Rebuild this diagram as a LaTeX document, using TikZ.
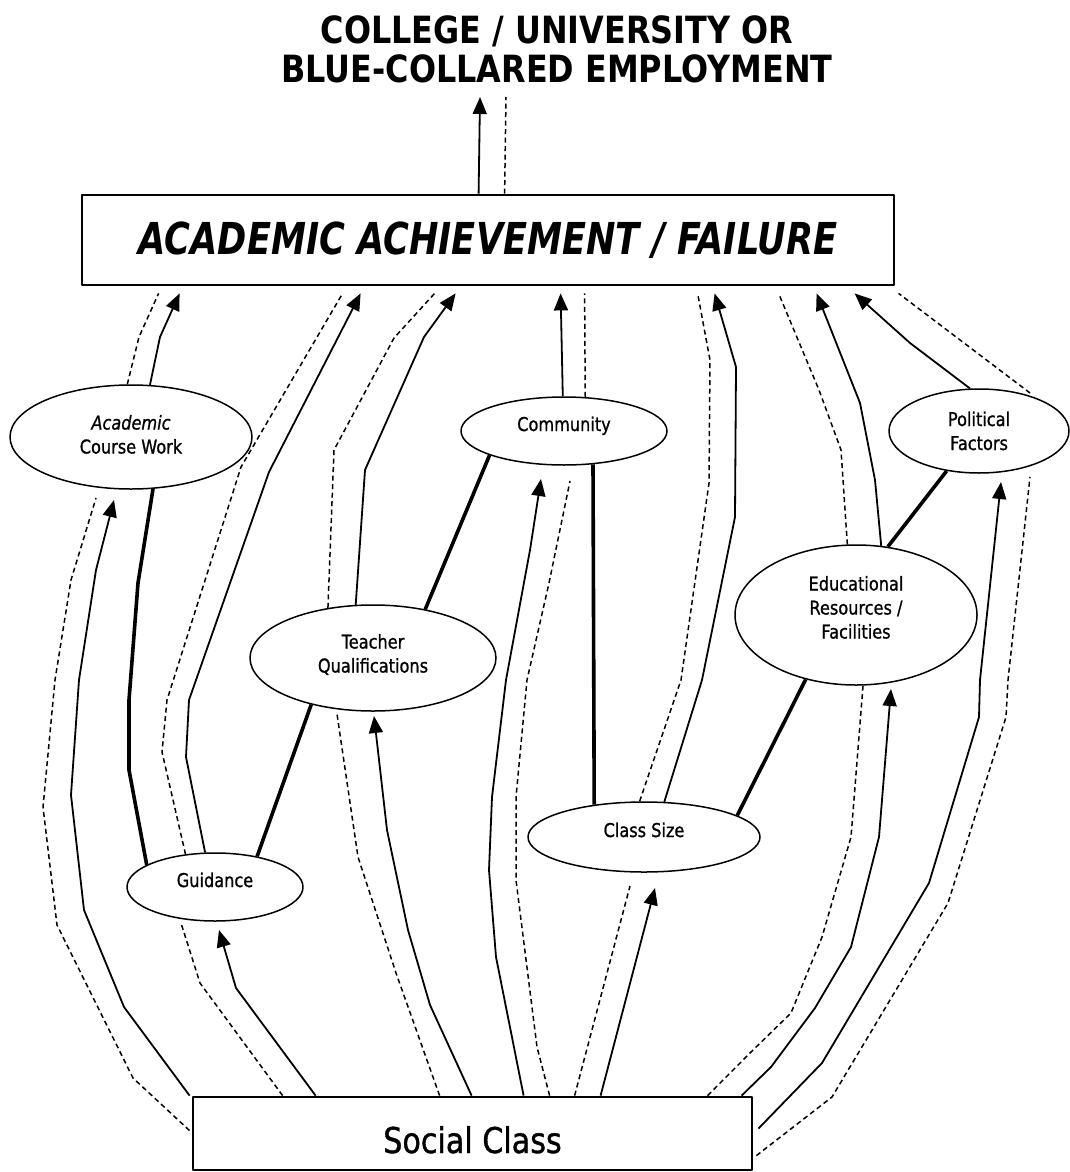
\documentclass[tikz,border=0pt]{standalone}
\usepackage{fontspec}
\setmainfont{DejaVu Sans}[FakeStretch=0.85]
\newfontfamily\headfont{DejaVu Sans}[FakeStretch=0.8]
\newfontfamily\labelfont{DejaVu Sans}[FakeStretch=0.85,FakeBold=1]
\usetikzlibrary{calc,arrows.meta,shapes.geometric}

\begin{document}
\begin{tikzpicture}[x=1pt,y=-1pt,line join=round,
  factor/.style={ellipse,draw,line width=1.5pt,inner sep=0pt,align=center,
    font=\labelfont\fontsize{19}{24}\selectfont},
  box/.style={rectangle,draw,line width=2.8pt,inner sep=0pt},
  infl/.style={line width=1.8pt,-{Triangle[length=17pt,width=14pt]}},
  shadow/.style={line width=1.5pt,dash pattern=on 5pt off 3.5pt},
  link/.style={line width=3.6pt},
]
\useasboundingbox (0,0) rectangle (1069,1172);

% outcome and central box
\node[align=center,inner sep=0pt,text height=70pt,text depth=6pt,
  font=\fontsize{37.5}{39}\selectfont\bfseries] (dest) at (557,50)
  {COLLEGE / UNIVERSITY OR\\BLUE-COLLARED EMPLOYMENT};
\node[box,minimum width=812,minimum height=90] (top) at (488,240)
  {\headfont\fontsize{44}{44}\selectfont\bfseries\itshape ACADEMIC ACHIEVEMENT / FAILURE};
\node[box,minimum width=559,minimum height=73,text height=39pt,text depth=0pt] (soc) at (472.5,1133.5)
  {\labelfont\fontsize{35.5}{40}\selectfont Social Class};

% intermediate factors
\node[factor,minimum width=242,minimum height=104,text height=38pt,text depth=5pt] (acw) at (131,437)
  {\textit{Academic}\\Course Work};
\node[factor,minimum width=206,minimum height=68,text height=14pt,text depth=14pt] (com) at (564,431)
  {Community};
\node[factor,minimum width=180,minimum height=84,text height=40pt,text depth=2pt] (pol) at (979,431)
  {Political\\Factors};
\node[factor,minimum width=246,minimum height=106,text height=38pt,text depth=9pt] (tq) at (373,658)
  {Teacher\\Qualifications};
\node[factor,minimum width=242,minimum height=140,text height=62pt,text depth=15pt] (edu) at (856,615)
  {Educational\\Resources /\\Facilities};
\node[factor,minimum width=232,minimum height=70,text height=14pt,text depth=14pt] (cs) at (644,837)
  {Class Size};
\node[factor,minimum width=176,minimum height=68,text height=14pt,text depth=14pt] (gui) at (215,887)
  {Guidance};

% central box to outcome
\draw[infl] ($(top.north west)+(398,0)$) -- ($(dest.center)+(-77,47)$);
\draw[shadow] ($(top.north west)+(424,0)$) -- ($(dest.center)+(-51,47)$);

% factors into the central box
\draw[infl] (acw.70) -- (160,337) -- ($(top.south west)+(99,7)$);
\draw[shadow] (acw.94) -- (139,337) -- ($(top.south west)+(78,7)$);
\draw[infl] (gui.106) -- (186,757) -- (189,700) -- (269,472) -- ($(top.south west)+(280,7)$);
\draw[shadow] (gui.132) -- (162,752) -- (167,700) -- (241,467) -- ($(top.south west)+(262,7)$);
\draw[infl] (tq.108) -- (365,470) -- (424,337) -- ($(top.south west)+(375,7)$);
\draw[shadow] (tq.132) -- (334,450) -- (394,338) -- ($(top.south west)+(354,7)$);
\draw[infl] (com.92) -- ($(top.south west)+(480,7)$);
\draw[shadow] (com.58) -- ($(top.south west)+(504,7)$);
\draw[infl] (cs.60) -- (702,680) -- (735,517) -- (736,367) -- ($(top.south west)+(634,7)$);
\draw[shadow] (cs.97) -- (681,680) -- (709,483) -- (710,360) -- ($(top.south west)+(617,7)$);
\draw[infl] (edu.70) -- (875,480) -- (860,403) -- ($(top.south west)+(736,7)$);
\draw[shadow] (edu.97) -- (841,450) -- (819,390) -- ($(top.south west)+(698,7)$);
\draw[infl] (pol.102) -- (910,343) -- ($(top.south west)+(774,7)$);
\draw[shadow] ($(pol.center)+(51,-38)$) -- ($(top.south west)+(818,7)$);

% links between factors
\draw[link] (acw.293) -- (138,583) -- (129,700) -- (129,770) -- (gui.162);
\draw[link] (gui.36) -- (tq.217);
\draw[link] (tq.43) -- (com.198);
\draw[link] (com.311) -- (cs.147);
\draw[link] (cs.13) -- (edu.232);
\draw[link] (edu.65) -- (pol.231);

% social class into the factors
\draw[infl] ($(soc.north west)+(124,0)$) -- (236,988) -- ($(gui.center)+(4,43)$);
\draw[shadow] ($(soc.north west)+(91,0)$) -- (200,983) -- ($(gui.center)+(-34,36)$);
\draw[infl] ($(soc.north west)+(280,0)$) -- (430,1005) -- (408,930) -- (387,830) -- ($(tq.center)+(1,58)$);
\draw[shadow] ($(soc.north west)+(248,0)$) -- (396,973) -- (358,857) -- ($(tq.center)+(-36,56)$);
\draw[infl] ($(soc.north west)+(-2,0)$) -- (124,1007) -- (84,910) -- (71,795) -- (79,680) -- (96,570) -- ($(acw.center)+(-17,63)$);
\draw[shadow] ($(soc.north west)+(-2,35)$) -- (133,1078) -- (57,925) -- (43,807) -- (55,680) -- (71,580) -- ($(acw.center)+(-35,61)$);
\draw[infl] ($(soc.north west)+(332,0)$) -- (496,957) -- (489,870) -- (492,797) -- (506,680) -- (530,550) -- ($(com.center)+(-23,48)$);
\draw[shadow] ($(soc.north west)+(358,0)$) -- (537,1047) -- (516,880) -- (516,797) -- (527,680) -- (549,583) -- ($(com.center)+(6,50)$);
\draw[infl] ($(soc.north west)+(409,0)$) -- ($(cs.center)+(11,51)$);
\draw[shadow] ($(soc.north west)+(383,0)$) -- ($(cs.center)+(-14,49)$);
\draw[infl] ($(soc.north west)+(550,0)$) -- (771,1067) -- (815,1008) -- (851,947) -- (879,837) -- ($(edu.center)+(35,74)$);
\draw[shadow] ($(soc.north west)+(516,0)$) -- (750,1053) -- (791,1013) -- (822,937) -- (851,837) -- ($(edu.center)+(7,71)$);
\draw[infl] ($(soc.north east)+(5,33)$) -- (822,1063) -- (929,883) -- (979,717) -- (980,680) -- ($(pol.center)+(22,51)$);
\draw[shadow] ($(soc.north east)+(3,60)$) -- (832,1097) -- (948,903) -- (1006,717) -- (1008,680) -- ($(pol.center)+(51,46)$);
\end{tikzpicture}
\end{document}
